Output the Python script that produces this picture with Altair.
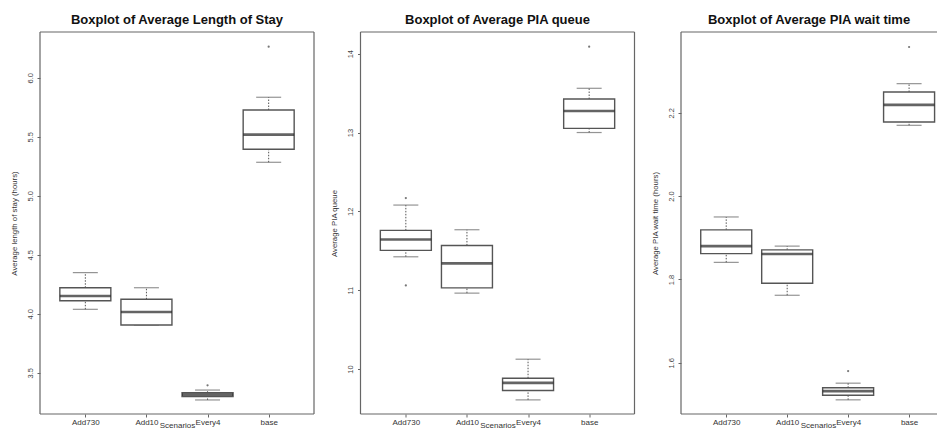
import json
import altair as alt
import pandas as pd

scenarios = ["Add730", "Add10", "Every4", "base"]

# Panel 1: Average length of stay (hours)
los_lo = [4.037, 3.904, 3.269, 5.283]
los_q1 = [4.110, 3.904, 3.297, 5.393]
los_med = [4.150, 4.014, 3.314, 5.517]
los_q3 = [4.220, 4.122, 3.330, 5.726]
los_hi = [4.348, 4.220, 3.353, 5.834]
los_out_scen = ["Every4", "base"]
los_out_val = [3.393, 6.263]

# Panel 2: Average PIA queue
q_lo = [11.424, 10.963, 9.609, 13.000]
q_q1 = [11.505, 11.030, 9.728, 13.053]
q_med = [11.644, 11.340, 9.825, 13.273]
q_q3 = [11.759, 11.568, 9.884, 13.425]
q_hi = [12.080, 11.767, 10.125, 13.561]
q_out_scen = ["Add730", "Add730", "base"]
q_out_val = [12.169, 11.061, 14.089]

# Panel 3: Average PIA wait time (hours)
w_lo = [1.841, 1.762, 1.511, 2.170]
w_q1 = [1.862, 1.791, 1.522, 2.178]
w_med = [1.880, 1.861, 1.532, 2.219]
w_q3 = [1.919, 1.871, 1.540, 2.250]
w_hi = [1.950, 1.880, 1.551, 2.270]
w_out_scen = ["Every4", "base"]
w_out_val = [1.580, 2.358]

FONT = "Liberation Sans"
H = 382
BOXW = 51
BORDER = "#666"
LABEL_EXPR = json.dumps(scenarios) + "[datum.value - 1]"


def panel(lo, q1, med, q3, hi, out_s, out_v, title, ytitle, domain, ticks, fmt,
          width, xmax, right_border=True):
    idx = list(range(1, len(scenarios) + 1))
    df = pd.DataFrame({"idx": idx, "scen": scenarios, "lo": lo, "q1": q1,
                       "med": med, "q3": q3, "hi": hi})
    odf = pd.DataFrame({"idx": [scenarios.index(s) + 1 for s in out_s], "val": out_v})
    ys = alt.Scale(domain=domain, nice=False, zero=False)
    yaxis = alt.Axis(values=ticks, format=fmt, labelAngle=-90, labelAlign="center",
                     labelBaseline="bottom", labelFontSize=7.5, labelColor="#444",
                     labelPadding=3, tickSize=3, tickColor="#666", domain=False, grid=False,
                     titleFontSize=7.8, titleFontWeight="normal", titleColor="#333",
                     titlePadding=8)

    def Y(f):
        return alt.Y(f"{f}:Q", scale=ys, axis=yaxis, title=ytitle)

    xs = alt.X("idx:Q", scale=alt.Scale(domain=[0.34, xmax], nice=False, zero=False),
               axis=alt.Axis(values=idx, labelExpr=LABEL_EXPR, title="Scenarios",
                             labelAngle=0, labelFontSize=8, labelColor="#333",
                             labelPadding=1.5, tickSize=3, tickColor="#666",
                             domain=False, grid=False, titleFontSize=8,
                             titleFontWeight="normal", titleColor="#333",
                             titleBaseline="alphabetic", titleAlign="center",
                             titleX=137, titleY=13))
    base = alt.Chart(df).encode(x=xs)
    wu = base.mark_rule(color="#555", strokeWidth=1, strokeDash=[1.5, 1.5]).encode(
        y=Y("q3"), y2="hi:Q")
    wd = base.mark_rule(color="#555", strokeWidth=1, strokeDash=[1.5, 1.5]).encode(
        y=Y("lo"), y2="q1:Q")
    sh = base.mark_tick(size=25, thickness=1.2, color="#666", orient="horizontal").encode(
        y=Y("hi"))
    sl = base.mark_tick(size=25, thickness=1.2, color="#666", orient="horizontal").encode(
        y=Y("lo"))
    box = base.mark_bar(size=BOXW, fill="white", stroke="#555", strokeWidth=1.4,
                        orient="vertical").encode(y=Y("q1"), y2="q3:Q")
    md = base.mark_tick(size=BOXW, thickness=2.6, color="#222", orient="horizontal").encode(
        y=Y("med"))
    pts = alt.Chart(odf).mark_circle(size=5, color="#777", opacity=1).encode(
        x=xs, y=Y("val"))

    one = alt.Data(values=[{}])
    bstyle = dict(color=BORDER, strokeWidth=1.2)
    borders = [
        alt.Chart(one).mark_rule(**bstyle).encode(
            x=alt.value(0), x2=alt.value(width), y=alt.value(0)),
        alt.Chart(one).mark_rule(**bstyle).encode(
            x=alt.value(0), x2=alt.value(width), y=alt.value(H)),
        alt.Chart(one).mark_rule(**bstyle).encode(
            x=alt.value(0), y=alt.value(0), y2=alt.value(H)),
    ]
    if right_border:
        borders.append(alt.Chart(one).mark_rule(**bstyle).encode(
            x=alt.value(width), y=alt.value(0), y2=alt.value(H)))

    return alt.layer(wu, wd, sh, sl, box, md, pts, *borders).properties(
        width=width, height=H,
        title=alt.TitleParams(title, fontSize=13, fontWeight="bold", font=FONT,
                              color="#111", offset=4.5, anchor="middle"))


p1 = panel(los_lo, los_q1, los_med, los_q3, los_hi, los_out_scen, los_out_val,
           "Boxplot of Average Length of Stay", "Average length of stay (hours)",
           [3.15, 6.387], [3.5, 4.0, 4.5, 5.0, 5.5, 6.0], ".1f", 274, 4.66)
p2 = panel(q_lo, q_q1, q_med, q_q3, q_hi, q_out_scen, q_out_val,
           "Boxplot of Average PIA queue", "Average PIA queue",
           [9.43, 14.275], [10, 11, 12, 13, 14], "d", 274, 4.66)
p3 = panel(w_lo, w_q1, w_med, w_q3, w_hi, w_out_scen, w_out_val,
           "Boxplot of Average PIA wait time", "Average PIA wait time (hours)",
           [1.477, 2.394], [1.6, 1.8, 2.0, 2.2], ".1f", 256, 4.376, right_border=False)

chart = alt.hconcat(p1, p2, p3, spacing=46.5, bounds="flush").resolve_scale(
    y="independent", x="independent").properties(
    padding={"left": 2, "top": 5, "right": 0, "bottom": 0}
).configure(font=FONT).configure_view(strokeWidth=0)

chart.save("out.html", embed_options={"renderer": "svg", "actions": False})
